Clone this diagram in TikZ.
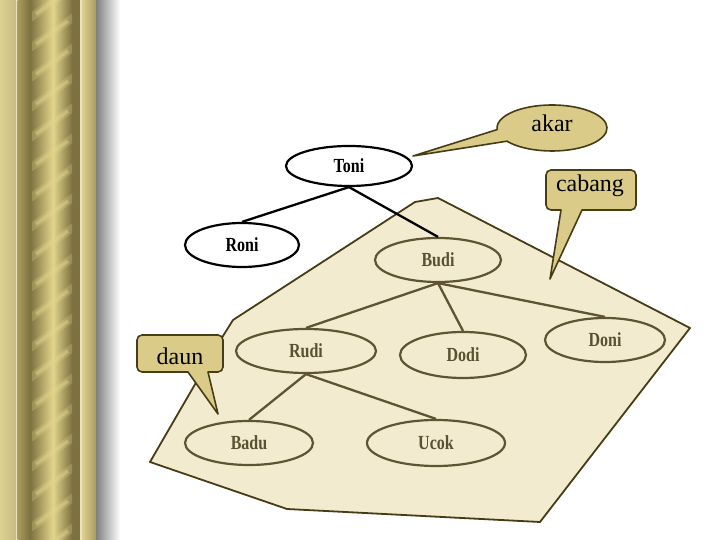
\documentclass[tikz,border=0pt]{standalone}
\usepackage{fontspec}
\setmainfont{Liberation Serif}
\newfontfamily\namefont[FakeStretch=0.8]{Liberation Serif Bold}
\usetikzlibrary{shapes.geometric}
\definecolor{gold}{RGB}{218,203,136}
\definecolor{polyfill}{RGB}{243,235,207}
\definecolor{olive}{RGB}{70,60,22}
\definecolor{nodeline}{RGB}{94,84,52}
\definecolor{nodetext}{RGB}{90,80,50}
\definecolor{ropelight}{RGB}{221,208,145}
\definecolor{ropemid}{RGB}{170,156,96}
\definecolor{ropedark}{RGB}{125,113,64}
\definecolor{ropehi}{RGB}{226,212,140}
\begin{document}
\begin{tikzpicture}[x=1pt,y=1pt,
  treenode/.style={ellipse, draw=nodeline, line width=2.2pt, fill=polyfill, inner sep=0pt,
    font=\namefont\fontsize{20}{22}\selectfont, text=nodetext},
  topnode/.style={treenode, draw=black, fill=white, text=black},
  branch/.style={draw=nodeline, line width=2.3pt},
  topbranch/.style={draw=black, line width=2.3pt},
  callout/.style={draw=olive, fill=gold, line width=1.6pt, line join=round},
  calltext/.style={font=\fontsize{24}{26}\selectfont, text=black, inner sep=0pt}]
\useasboundingbox (0,0) rectangle (720,540);
\fill[white] (0,0) rectangle (720,540);

% ---- left decorative column ----
\shade[left color=ropelight, right color=ropelight!90!black] (0,0) rectangle (16,540);
\fill[ropelight!60!white] (16,0) rectangle (17.5,540);
\shade[left color=ropemid, right color=ropedark] (17.5,0) rectangle (30,540);
\shade[left color=ropedark, right color=ropehi] (30,0) rectangle (53,540);
\shade[left color=ropehi, right color=ropedark] (53,0) rectangle (72,540);
\fill[ropedark] (72,0) rectangle (80,540);
\fill[ropelight!60!white] (80,0) rectangle (82,540);
\shade[left color=ropelight, right color=ropemid] (82,0) rectangle (96,540);
\shade[left color=black!50, right color=white] (96,0) rectangle (120,540);
\begin{scope}
  \clip (32,0) rectangle (72,540);
  \foreach \yy in {-48,-18,...,560} {
    \draw[ropehi, opacity=0.25, line width=8pt] (30,\yy) -- (74,\yy+31);
    \draw[ropehi, opacity=0.45, line width=3.5pt] (36,\yy+4) -- (68,\yy+27);
  }
\end{scope}

% ---- subtree region ----
\draw[draw=olive, fill=polyfill, line width=1.8pt, line join=round]
  (438,342) -- (415,338) -- (233,220) -- (223,204) -- (150,78) -- (287,31) -- (540,18) -- (690,212) -- cycle;

% ---- nodes ----
\node[topnode, minimum width=126pt, minimum height=40pt] (toni) at (349,374) {Toni};
\node[topnode, minimum width=114pt, minimum height=44pt] (roni) at (242,295) {Roni};
\node[treenode, minimum width=126pt, minimum height=44pt] (budi) at (438,280) {Budi};
\node[treenode, minimum width=140pt, minimum height=44pt] (rudi) at (306,189) {Rudi};
\node[treenode, minimum width=126pt, minimum height=46pt] (dodi) at (463,185) {Dodi};
\node[treenode, minimum width=120pt, minimum height=44pt] (doni) at (605,200) {Doni};
\node[treenode, minimum width=128pt, minimum height=44pt] (badu) at (249,97) {Badu};
\node[treenode, minimum width=138pt, minimum height=46pt] (ucok) at (436,97) {Ucok};

% ---- edges ----
\draw[topbranch] (toni.south) -- (roni.north);
\draw[topbranch] (toni.south) -- (budi.north);
\draw[branch] (budi.south) -- (rudi.north);
\draw[branch] (budi.south) -- (dodi.north);
\draw[branch] (budi.south) -- (doni.north);
\draw[branch] (rudi.south) -- (badu.north);
\draw[branch] (rudi.south) -- (ucok.north);

% ---- callouts ----
\coordinate (akartip) at (413,384);
\draw[callout] (552,412) ++(215:55pt and 23pt)
  arc[start angle=215, end angle=544, x radius=55pt, y radius=23pt] -- (akartip) -- cycle;
\node[calltext] (akar) at (552,416.5) {akar};

\coordinate (cabangtip) at (550,261);
\draw[callout] (cabangtip) -- (561,330) [rounded corners=5pt] -- (546,330) -- (546,370) -- (636,370) -- (636,330) [sharp corners] -- (582,330) -- cycle;
\node[calltext] (cabang) at (590,354.5) {cabang};

\coordinate (dauntip) at (218,126);
\draw[callout] (dauntip) -- (208,168) [rounded corners=5pt] -- (223,168) -- (223,205) -- (137,205) -- (137,168) [sharp corners] -- (188,168) -- cycle;
\node[calltext] (daun) at (180,184) {daun};
\end{tikzpicture}
\end{document}
